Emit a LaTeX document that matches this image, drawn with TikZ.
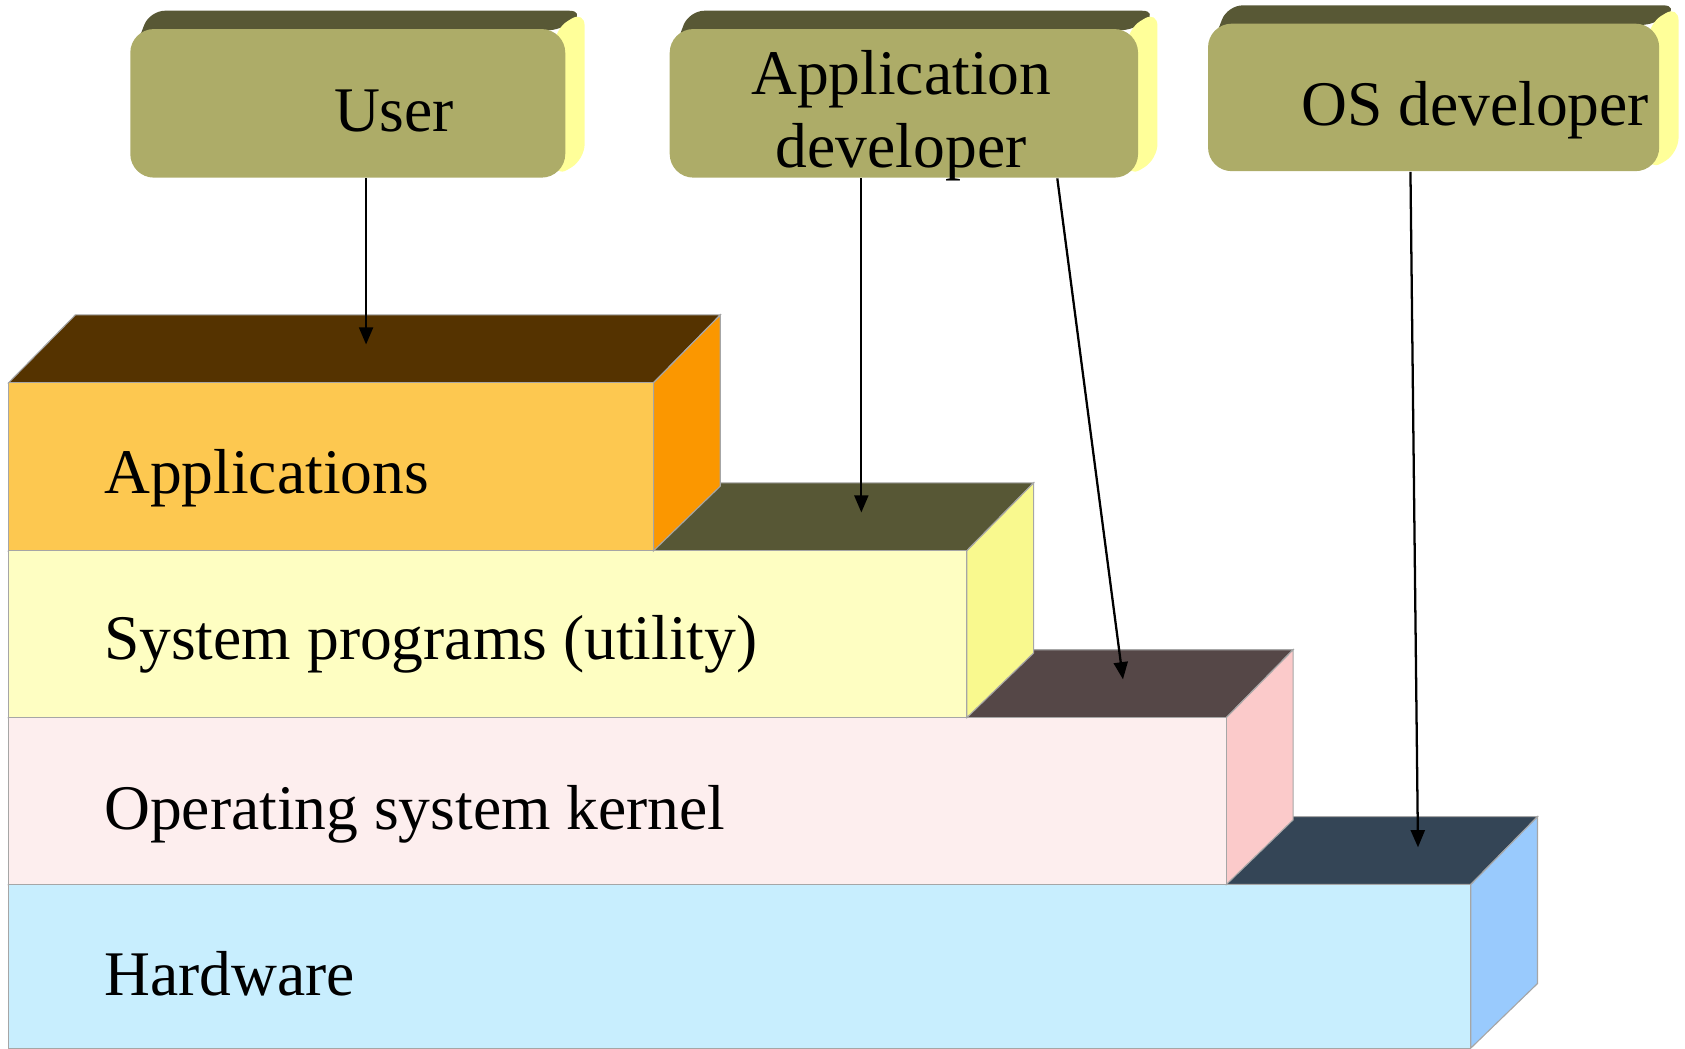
\documentclass[tikz,border=0pt]{standalone}
\usepackage{fontspec}
\setmainfont{Liberation Serif}
\usetikzlibrary{arrows.meta}
\definecolor{hwFront}{HTML}{C8EEFE}
\definecolor{hwSide}{HTML}{99CAFD}
\definecolor{hwTop}{HTML}{344556}
\definecolor{kernFront}{HTML}{FDEEEE}
\definecolor{kernSide}{HTML}{FBCACA}
\definecolor{kernTop}{HTML}{554747}
\definecolor{sysFront}{HTML}{FEFEC2}
\definecolor{sysSide}{HTML}{F9F98E}
\definecolor{sysTop}{HTML}{575735}
\definecolor{appsFront}{HTML}{FDC850}
\definecolor{appsSide}{HTML}{FB9700}
\definecolor{appsTop}{HTML}{553300}
\definecolor{roleFront}{HTML}{ADAC68}
\definecolor{roleTop}{HTML}{585835}
\definecolor{roleSide}{HTML}{FFFF99}
\def\slab[#1](#2:#3:#4){%
  \draw[slabline,fill=#1Top] (0.08,#4) -- (0.70,#4+0.63) -- (#2+0.62,#4+0.63) -- (#2,#4) -- cycle;
  \draw[slabline,fill=#1Side] (#2,#3) -- (#2,#4) -- (#2+0.62,#4+0.63) -- (#2+0.62,#3+0.6) -- cycle;
  \draw[slabline,fill=#1Front] (0.08,#3) rectangle (#2,#4);}
\def\rolebase(#1:#2:#3:#4){%
  \fill[roleTop,rounded corners=4pt] (#1,#4-0.3) -- (#1+0.18,#4+0.17) -- (#2+0.18,#4+0.17) -- (#2,#4) -- cycle;
  \fill[roleSide,rounded corners=4pt] (#2-0.1,#4) -- (#2+0.18,#4+0.17) -- (#2+0.18,#3+0.17) -- (#2-0.1,#3) -- cycle;}

\begin{document}
\begin{tikzpicture}[
    slabline/.style={draw=black!35, line width=0.3pt},
    layertext/.style={anchor=base west, inner sep=0pt, font=\fontsize{16.8}{19.3}\selectfont},
    roletext/.style={inner sep=0pt, font=\fontsize{16.8}{19.3}\selectfont},
    rolefront/.style={rectangle, rounded corners=0.22cm, fill=roleFront, inner sep=0pt},
    flow/.style={-{Triangle[length=1.6mm,width=1.3mm]}, line width=0.6pt}]
  \useasboundingbox (0,0) rectangle (15.65,9.735);

  % layers, bottom up
  \slab[hw](13.66:0:1.52)
  \slab[kern](11.39:1.52:3.07)
  \slab[sys](8.98:3.07:4.62)
  \slab[apps](6.07:4.62:6.18)

  \node[layertext] (hwtext) at (0.96,0.485) {Hardware};
  \node[layertext] (kerntext) at (0.96,2.035) {Operating system kernel};
  \node[layertext] (systext) at (0.96,3.605) {System programs (utility)};
  \node[layertext] (appstext) at (0.96,5.155) {Applications};

  \coordinate (appsin) at (3.40,6.535);
  \coordinate (sysin) at (8.00,4.975);
  \coordinate (kernin) at (10.43,3.425);
  \coordinate (hwin) at (13.17,1.865);

  % roles
  \rolebase(1.21:5.25:8.085:9.465)
  \node[rolefront, minimum width=4.04cm, minimum height=1.38cm] (user) at (3.23,8.775) {};
  \node[roletext, anchor=base] (usertext) at (3.66,8.515) {User};

  \rolebase(6.22:10.57:8.085:9.465)
  \node[rolefront, minimum width=4.35cm, minimum height=1.38cm] (appdev) at (8.395,8.775) {};
  \node[roletext, align=center] (appdevtext) at (8.37,8.66) {Application\\developer};

  \rolebase(11.22:15.41:8.145:9.515)
  \node[rolefront, minimum width=4.19cm, minimum height=1.37cm] (osdev) at (13.315,8.83) {};
  \node[roletext, anchor=base] (osdevtext) at (13.70,8.565) {OS developer};

  \draw[flow] (user.south -| appsin) -- (appsin);
  \draw[flow] (appdev.south -| sysin) -- (sysin);
  \draw[flow] (appdev.south -| 9.82,0) -- (kernin);
  \draw[flow] (osdev.south -| 13.10,0) -- (hwin);
\end{tikzpicture}
\end{document}
